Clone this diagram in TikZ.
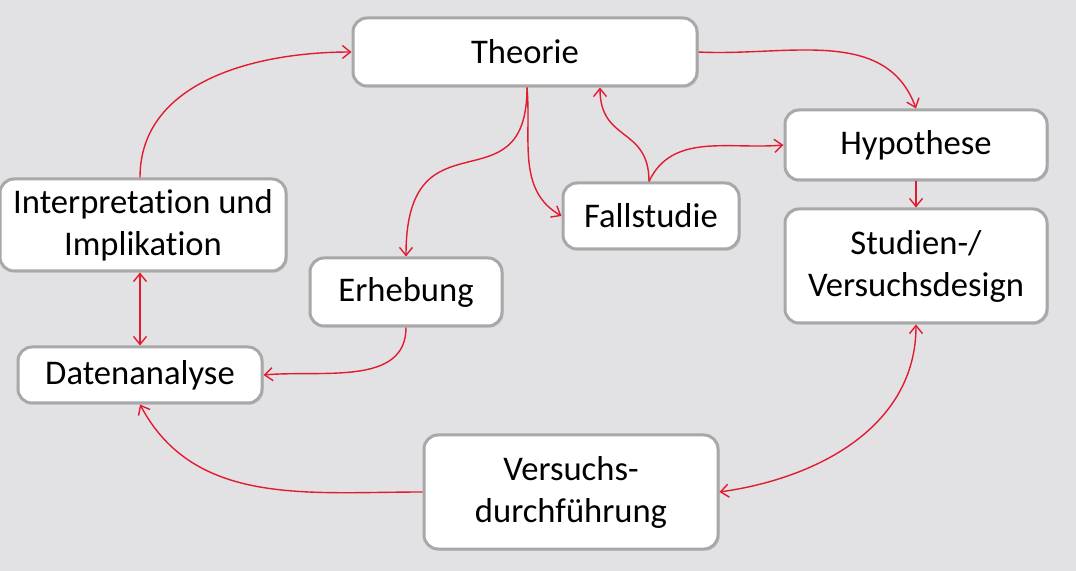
\documentclass[tikz,border=0pt]{standalone}
\usepackage{fontspec}
\setmainfont[Ligatures=NoCommon]{Carlito}
\usepackage{tikz}
\usetikzlibrary{arrows.meta,calc,positioning,shadows}
\definecolor{bg}{RGB}{226,225,228}
\definecolor{boxline}{RGB}{168,168,170}
\definecolor{flowred}{RGB}{226,28,48}
\tikzset{
  box/.style={rounded corners=7pt, draw=boxline, line width=1.5pt, fill=white, align=center, inner sep=2pt,
    font=\fontsize{17.3pt}{21pt}\selectfont,
    drop shadow={shadow xshift=0.8pt, shadow yshift=-0.8pt, opacity=0.25}},
  arrow/.style={draw=flowred, line width=0.7pt, -{Straight Barb[length=4pt,width=6.5pt]}},
  twoarrow/.style={draw=flowred, line width=0.7pt, {Straight Barb[length=4pt,width=6.5pt]}-{Straight Barb[length=4pt,width=6.5pt]}},
}
\begin{document}
\begin{tikzpicture}[x=0.5pt, y=0.5pt]
    \fill[bg] (0,0) rectangle (1076,-571);
    \useasboundingbox (0,0) rectangle (1076,-571);

    % boxes
    \node[box, minimum width=172pt, minimum height=34pt] (theorie) at (525,-52) {Theorie};
    \node[box, minimum width=131pt, minimum height=35pt] (hyp) at (916,-145) {Hypothese};
    \node[box, minimum width=131pt, minimum height=57pt, below=13pt of hyp] (design) {Studien-/\\Versuchsdesign};
    \node[box, minimum width=88pt, minimum height=33pt] (fall) at (651,-216) {Fallstudie};
    \node[box, minimum width=143pt, minimum height=46pt] (interp) at (143,-225) {Interpretation und\\Implikation};
    \node[box, minimum width=96pt, minimum height=34pt] (erheb) at (406,-292) {Erhebung};
    \node[box, minimum width=122pt, minimum height=28pt] (daten) at (140,-375) {Datenanalyse};
    \node[box, minimum width=147pt, minimum height=57pt] (durch) at (571,-492) {Versuchs-\\durchführung};

    % connectors
    \draw[arrow] (interp.north -| daten.north) to[out=90, in=180] (theorie.west);
    \draw[arrow] (theorie.east) to[out=-3, in=110] (hyp.north);
    \draw[arrow] ([xshift=1pt]theorie.south) .. controls +(0,-125) and +(0,150) .. (erheb.north);
    \draw[arrow] ([xshift=1pt]theorie.south) to[out=-85, in=150] (fall.west);
    \draw[arrow] ([xshift=-1pt]fall.north) .. controls +(0,55) and +(0,-55) .. ([xshift=37.5pt]theorie.south);
    \draw[arrow] ([xshift=-1pt]fall.north) to[out=65, in=185] (hyp.west);
    \draw[arrow] (hyp.south) -- (design.north);
    \draw[twoarrow] (design.south) to[out=-90, in=8] (durch.east);
    \draw[arrow] (durch.west) to[out=180, in=-62] (daten.south);
    \draw[arrow] (erheb.south) to[out=-90, in=5] (daten.east);
    \draw[twoarrow] (interp.south -| daten.north) -- (daten.north);
\end{tikzpicture}
\end{document}
